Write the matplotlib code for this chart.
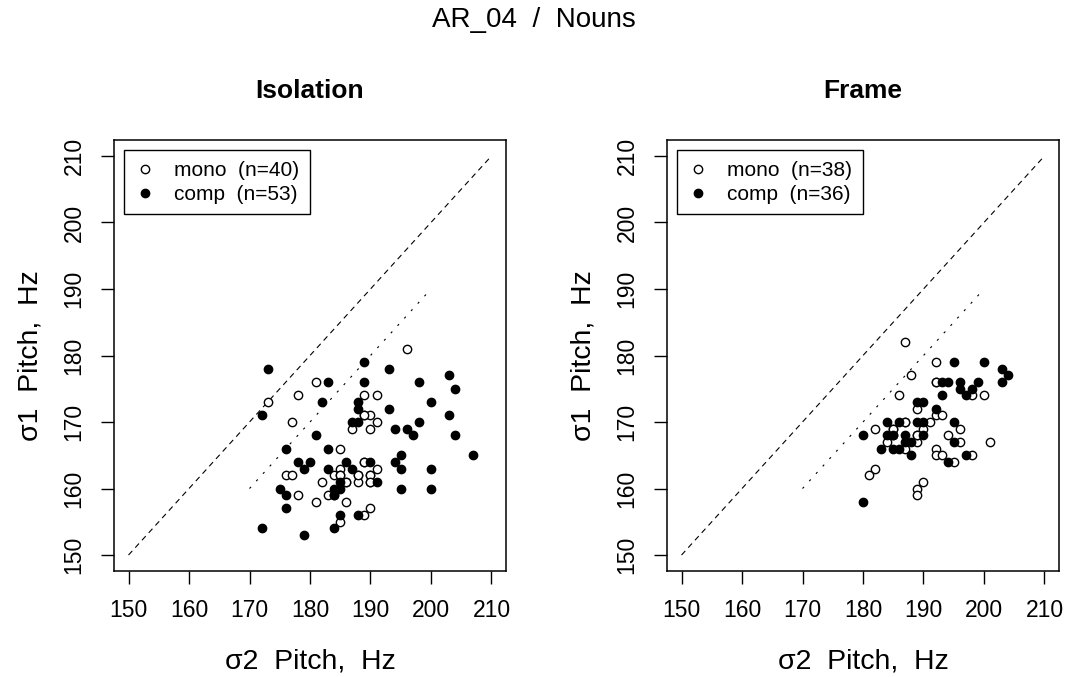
import matplotlib
matplotlib.use("Agg")
import matplotlib.pyplot as plt
from matplotlib.lines import Line2D

plt.rcParams.update({"font.family": ["Liberation Sans", "DejaVu Sans"], "axes.linewidth": 1.1})

# ---- data ----
iso_mono_x = [181, 178, 173, 177, 185, 176, 177, 182, 184, 178, 181, 183, 196, 189, 191, 189, 190,
              191, 187, 190, 189, 185, 191, 185, 186, 188, 188, 190, 190, 186, 189, 190, 185,
              188, 190, 189, 186, 185, 190, 189]
iso_mono_y = [176, 174, 173, 170, 166, 162, 162, 161, 162, 159, 158, 159, 181, 174, 174, 171, 171,
              170, 169, 169, 164, 163, 163, 162, 161, 162, 161, 162, 161, 158, 156, 157, 155,
              162, 162, 164, 161, 162, 161, 171]
iso_comp_x = [173, 183, 182, 172, 181, 176, 183, 178, 180, 179, 183, 175, 176, 184, 176, 172, 179,
              184, 189, 193, 203, 204, 189, 198, 200, 188, 188, 193, 203, 198, 187, 188, 194,
              196, 197, 204, 195, 207, 194, 195, 200, 195, 200, 186, 190, 187, 185, 191, 184,
              185, 185, 188, 184]
iso_comp_y = [178, 176, 173, 171, 168, 166, 166, 164, 164, 163, 163, 160, 159, 159, 157, 154, 153,
              154, 179, 178, 177, 175, 176, 176, 173, 173, 172, 172, 171, 170, 170, 170, 169,
              169, 168, 168, 165, 165, 164, 163, 163, 160, 160, 164, 164, 163, 161, 161, 160,
              160, 156, 156, 159]

frm_mono_x = [187, 192, 188, 192, 186, 189, 182, 185, 187, 191, 190, 184, 189, 187, 194, 196, 201,
              196, 192, 192, 193, 195, 198, 182, 181, 190, 189, 189, 198, 200, 192, 193, 189,
              185, 189, 187, 192, 185]
frm_mono_y = [182, 179, 177, 176, 174, 172, 169, 169, 170, 170, 169, 167, 167, 166, 168, 167, 167,
              169, 166, 165, 165, 164, 165, 163, 162, 161, 160, 159, 174, 174, 171, 171, 168,
              168, 168, 170, 176, 169]
frm_comp_x = [193, 194, 193, 189, 190, 180, 184, 186, 189, 190, 184, 187, 187, 188, 183, 185, 186,
              188, 190, 195, 194, 197, 180, 195, 200, 203, 204, 203, 196, 196, 199, 198, 197,
              192, 195, 185]
frm_comp_y = [176, 176, 174, 173, 173, 168, 170, 170, 170, 170, 168, 168, 167, 167, 166, 166, 166,
              165, 168, 167, 164, 165, 158, 179, 179, 178, 177, 176, 176, 175, 176, 175, 174,
              172, 170, 168]

panels = [
    ("Isolation", iso_mono_x, iso_mono_y, iso_comp_x, iso_comp_y),
    ("Frame", frm_mono_x, frm_mono_y, frm_comp_x, frm_comp_y),
]
ticks = [150, 160, 170, 180, 190, 200, 210]

W, H = 1067, 677
fig = plt.figure(figsize=(W / 100, H / 100), dpi=100)
fig.text(0.5, 1 - 20 / H, "AR_04  /  Nouns", ha="center", va="center", fontsize=20)

for i, (title, mx, my, cx, cy) in enumerate(panels):
    left = [114, 667][i]
    ax = fig.add_axes([left / W, 1 - 571 / H, 392 / W, 431 / H])
    ax.set_xlim(147.6, 212.4)
    ax.set_ylim(147.6, 212.4)

    ax.plot([150, 210], [150, 210], color="black", lw=0.8, ls=(0, (5, 4)))
    ax.plot([170, 200], [160, 190], color="black", lw=0.8, ls=(0, (2, 7)))

    ax.plot(mx, my, "o", ms=6, mfc="white", mec="black", mew=1.0, ls="none", zorder=3)
    ax.plot(cx, cy, "o", ms=6, mfc="black", mec="black", mew=1.0, ls="none", zorder=3)

    ax.set_xticks(ticks)
    ax.set_yticks(ticks)
    ax.set_xticklabels([str(t) for t in ticks])
    ax.set_yticklabels([str(t) for t in ticks], rotation=90, va="center")
    ax.tick_params(length=9.5, width=1.0, labelsize=16.5, pad=11)

    ax.set_title(title, fontsize=19, fontweight="bold", pad=30)
    ax.set_xlabel("σ2  Pitch,  Hz", fontsize=20.5, labelpad=19)
    ax.set_ylabel("σ1  Pitch,  Hz", fontsize=20.5, labelpad=14)

    handles = [
        Line2D([0], [0], marker="o", ls="none", ms=6, mfc="white", mec="black", mew=1.0),
        Line2D([0], [0], marker="o", ls="none", ms=6, mfc="black", mec="black"),
    ]
    labels = [f"mono  (n={len(mx)})", f"comp  (n={len(cx)})"]
    leg = ax.legend(handles, labels, loc="upper left", fancybox=False, framealpha=1,
                    edgecolor="black", fontsize=15, borderaxespad=0.5, handlelength=1.0,
                    handletextpad=0.9, labelspacing=0.25, borderpad=0.5)
    leg.get_frame().set_linewidth(1.0)

fig.savefig("out.png", dpi=100)
